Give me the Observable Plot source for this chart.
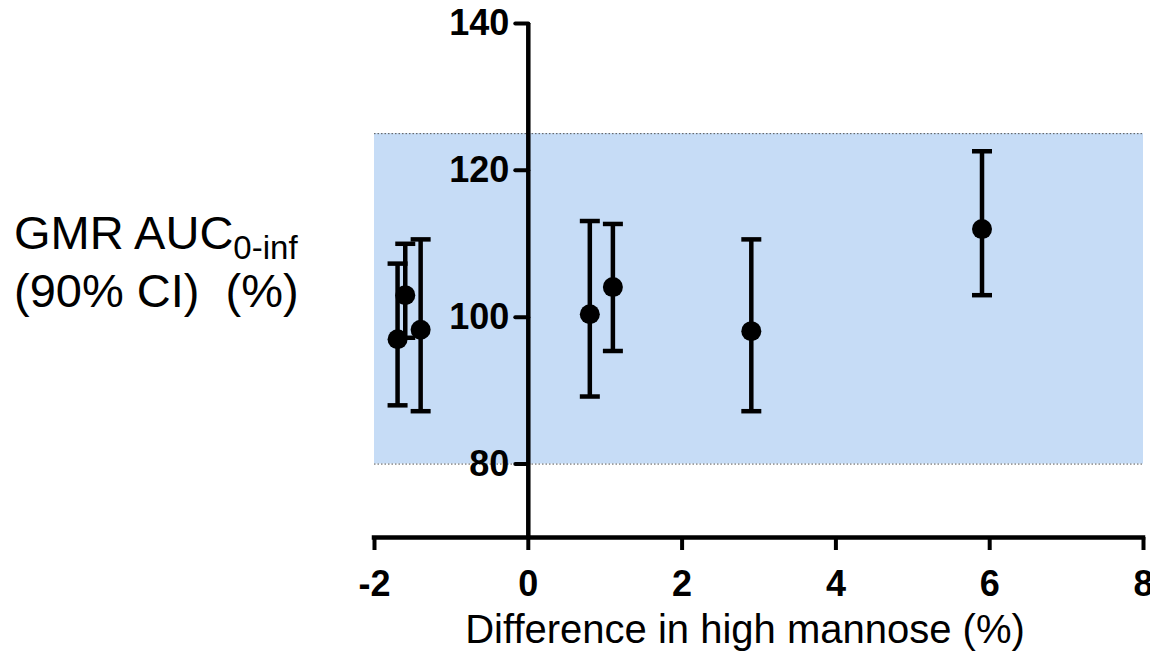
<!DOCTYPE html>
<html>
<head>
<meta charset="utf-8">
<script src="https://cdn.jsdelivr.net/npm/d3@7"></script>
<script src="https://cdn.jsdelivr.net/npm/@observablehq/plot@0.6"></script>
<style>
  html, body { margin: 0; padding: 0; background: #fff; }
  #wrap { position: relative; width: 1150px; height: 658px; font-family: "Liberation Sans", Arial, sans-serif; }
  #ylab { position: absolute; left: 14px; top: 204px; font-size: 47px; line-height: 58px; color: #000; white-space: nowrap; }
  #ylab sub { font-size: 33px; vertical-align: -10px; line-height: 0; }
  #xlab { position: absolute; left: 0; width: 1150px; top: 607px; text-align: center; padding-left: 340px; box-sizing: border-box; font-size: 40px; color: #000; }
</style>
</head>
<body>
<div id="wrap">
  <div id="chart"></div>
  <div id="ylab">GMR AUC<sub>0-inf</sub><br>(90% CI)&nbsp; (%)</div>
  <div id="xlab">Difference in high mannose (%)</div>
</div>
<script>
// Data
const diffHighMannose = [-1.7, -1.6, -1.4, 0.8, 1.1, 2.9, 5.9];
const gmrAuc = [97.0, 103.0, 98.3, 100.4, 104.1, 98.1, 112.0];
const ciLow = [88.0, 97.2, 87.2, 89.2, 95.4, 87.2, 103.0];
const ciHigh = [107.3, 110.0, 110.6, 113.1, 112.7, 110.6, 122.6];
const xTicks = [-2, 0, 2, 4, 6, 8];
const yTicks = [80, 100, 120, 140];
const xDomain = [-2, 8];
const yDomain = [70, 140];
const acceptance = [{lo: 80, hi: 125}];

const rows = diffHighMannose.map((x, i) => ({x, y: gmrAuc[i], lo: ciLow[i], hi: ciHigh[i]}));

const capSymbol = {
  draw(ctx, size) {
    const w = Math.sqrt(size / Math.PI);
    ctx.moveTo(-w, 0);
    ctx.lineTo(w, 0);
  }
};
const tickShape = {
  draw(ctx, l) {
    ctx.moveTo(0, 0);
    ctx.lineTo(0, -l);
  }
};

const chart = Plot.plot({
  width: 1150,
  height: 658,
  marginLeft: 374,
  marginRight: 7,
  marginTop: 23,
  marginBottom: 121,
  style: {fontFamily: "'Liberation Sans', Arial, sans-serif", color: "#000", background: "transparent", overflow: "visible"},
  x: {domain: xDomain, ticks: xTicks},
  y: {domain: yDomain, ticks: yTicks, axis: null},
  marks: [
    Plot.rect(acceptance, {x1: () => xDomain[0], x2: () => xDomain[1], y1: "lo", y2: "hi", fill: "#c6dcf6"}),
    Plot.ruleY(acceptance.flatMap(d => [d.lo, d.hi]), {x1: () => xDomain[0], x2: () => xDomain[1], stroke: "#555", strokeWidth: 1, strokeDasharray: "1.5,2"}),
    // y axis at x = 0
    Plot.ruleX([0], {y1: () => yDomain[0], y2: () => yDomain[1], strokeWidth: 4.5, stroke: "#000"}),
    Plot.vector(yTicks, {x: () => 0, y: d => d, length: 13, rotate: -90, anchor: "start", shape: tickShape, stroke: "#000", strokeWidth: 4}),
    Plot.text(yTicks, {x: () => 0, y: d => d, text: d => String(d), textAnchor: "end", dx: -19, fontSize: 36, fontWeight: "bold", fill: "#000"}),
    // x axis
    Plot.ruleY([yDomain[0]], {x1: () => xDomain[0], x2: () => xDomain[1], strokeWidth: 4.5, stroke: "#000", strokeLinecap: "square"}),
    Plot.axisX({ticks: xTicks, tickSize: 13, strokeWidth: 4, tickPadding: 20, fontSize: 36, fontWeight: "bold", label: null, tickFormat: d => String(d)}),
    // error bars
    Plot.ruleX(rows, {x: "x", y1: "lo", y2: "hi", stroke: "#000", strokeWidth: 4.5}),
    Plot.dot(rows, {x: "x", y: "lo", symbol: capSymbol, r: 10, stroke: "#000", strokeWidth: 4.5, fill: "none"}),
    Plot.dot(rows, {x: "x", y: "hi", symbol: capSymbol, r: 10, stroke: "#000", strokeWidth: 4.5, fill: "none"}),
    Plot.dot(rows, {x: "x", y: "y", r: 10, fill: "#000", stroke: "none"})
  ]
});
document.getElementById("chart").appendChild(chart);
</script>
</body>
</html>
